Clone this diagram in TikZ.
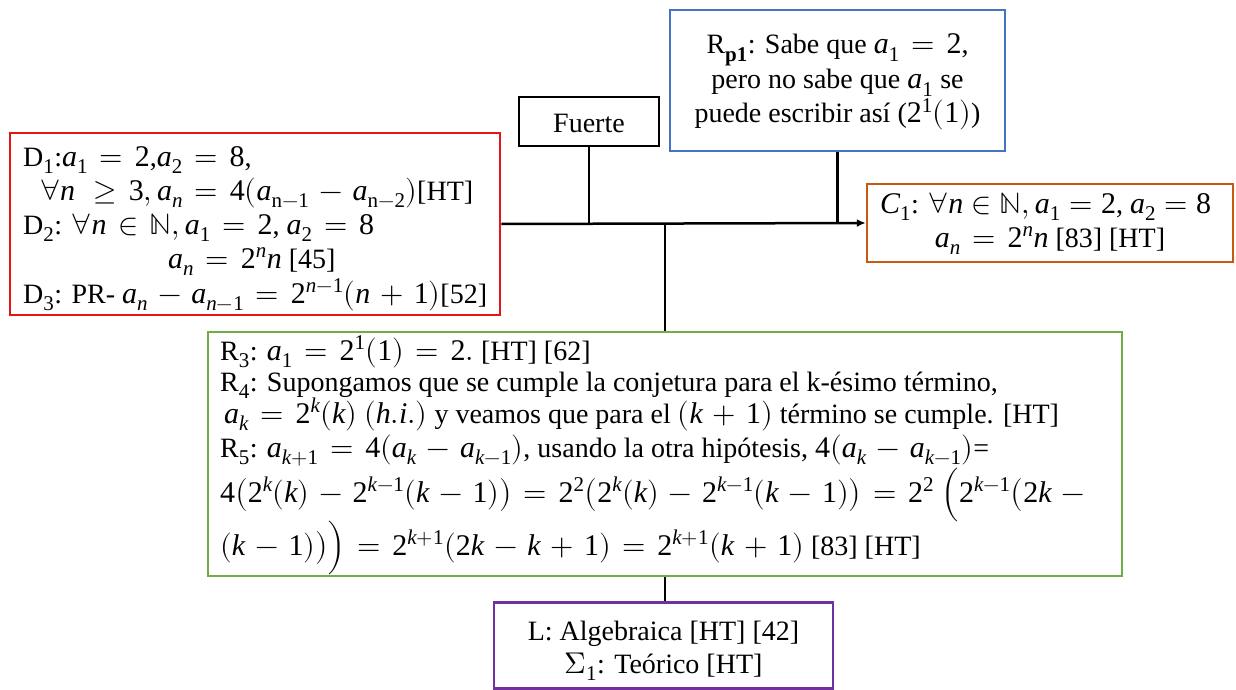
\documentclass[tikz,border=0pt]{standalone}
\usepackage{amsmath}
\usepackage{unicode-math}
\setmainfont{Liberation Serif}
\setmathfont{Latin Modern Math}
\setmathfont{Liberation Serif Italic}[range={it/{latin,Latin}->up}]
\setmathfont{Liberation Serif}[range={up/num}]
\DeclareMathSizes{28}{30}{21}{16}
\medmuskip=6mu plus 2mu minus 4mu
\thickmuskip=7mu plus 5mu
\usetikzlibrary{arrows.meta}
\definecolor{cred}{RGB}{230,20,20}
\definecolor{cblue}{RGB}{68,114,196}
\definecolor{corange}{RGB}{197,90,17}
\definecolor{cgreen}{RGB}{112,173,71}
\definecolor{cpurple}{RGB}{112,48,160}
\begin{document}
\begin{tikzpicture}[x=1pt,y=-1pt,
  box/.style={draw, line width=2.5pt, rectangle, inner sep=0pt},
  txt/.style={anchor=base west, inner sep=0pt, font=\fontsize{28}{33}\selectfont},
  ctxt/.style={anchor=base, inner sep=0pt, font=\fontsize{28}{33}\selectfont},
  conn/.style={draw=black, line width=2.5pt}]
\useasboundingbox (0,0) rectangle (1236,690);
% boxes
\node[box, draw=cred, minimum width=490, minimum height=182] (D) at (255,224) {};
\node[box, draw=black, minimum width=140, minimum height=49] (F) at (589,121.5) {};
\node[box, draw=cblue, minimum width=335, minimum height=141] (R) at (837.5,80.5) {};
\node[box, draw=corange, minimum width=366, minimum height=78] (C) at (1050,223) {};
\node[box, draw=cgreen, minimum width=914, minimum height=244] (G) at (665,454) {};
\node[box, draw=cpurple, minimum width=339, minimum height=86] (L) at (663.5,645.5) {};
% connectors
\coordinate (jg) at (G.north |- D.east);
\draw[conn, -{Latex[length=9pt,width=8pt]}] (D.east) -- (C.west);
\draw[conn] (F.south) -- (F.south |- D.east);
\draw[conn] (R.south) -- (R.south |- D.east);
\draw[conn] (jg) -- (G.north);
\draw[conn] (G.south) -- (G.south |- L.north);
% texts
\node[ctxt] (tF) at (589,132) {Fuerte};
\node[txt] (d1) at (23,166) {D$_1$:$a_1 = 2$,$a_2 = 8$,};
\node[txt] (d2) at (40,200) {$\forall n\ \geq 3, a_n = 4(a_{\mathrm{n-1}} - a_{\mathrm{n-2}})$[HT]};
\node[txt] (d3) at (23,234) {D$_2$: $\forall n \in \mathbb{N}, a_1 = 2$, $a_2 = 8$};
\node[txt] (d4) at (168,268) {$a_n = 2^n n$ [45]};
\node[txt] (d5) at (23,303) {D$_3$: PR- $a_n - a_{n-1} = 2^{n-1}(n+1)$[52]};
\node[ctxt] (r1) at (837.5,54) {R$_{\mathbf{p1}}$: Sabe que $a_1 = 2$,};
\node[ctxt] (r2) at (837.5,89) {pero no sabe que $a_1$ se};
\node[ctxt] (r3) at (837.5,123) {puede escribir así ($2^1(1)$)};
\node[txt] (c1) at (880,213) {\thickmuskip=5mu plus 5mu$C_1$: $\forall n \in \mathbb{N}, a_1 = 2$, $a_2 = 8$};
\node[ctxt] (c2) at (1050,247) {$a_n = 2^n n$ [83] [HT]};
\node[txt] (g1) at (220,360) {R$_3$: $a_1 = 2^1(1) = 2.$ [HT] [62]};
\node[txt] (g2) at (220,391) {R$_4$: Supongamos que se cumple la conjetura para el k-ésimo término,};
\node[txt] (g3) at (224,423) {$a_k = 2^k(k)$ $(h.i.)$ y veamos que para el $(k+1)$ término se cumple. [HT]};
\node[txt] (g4) at (220,457) {R$_5$: $a_{k+1} = 4(a_k - a_{k-1})$, usando la otra hipótesis, $4(a_k - a_{k-1})$=};
\node[txt] (g5) at (220,502) {$4\bigl(2^k(k) - 2^{k-1}(k-1)\bigr) = 2^2\bigl(2^k(k) - 2^{k-1}(k-1)\bigr) = 2^2\ \Bigl(2^{k-1}\bigl(2k - {}$};
\node[txt] (g6) at (220,555) {$(k-1)\bigr)\Bigr) = 2^{k+1}(2k-k+1) = 2^{k+1}(k+1)$ [83] [HT]};
\node[ctxt] (l1) at (663.5,640) {L: Algebraica [HT] [42]};
\node[ctxt] (l2) at (663.5,673) {$\Sigma_1$: Teórico [HT]};
\end{tikzpicture}
\end{document}
